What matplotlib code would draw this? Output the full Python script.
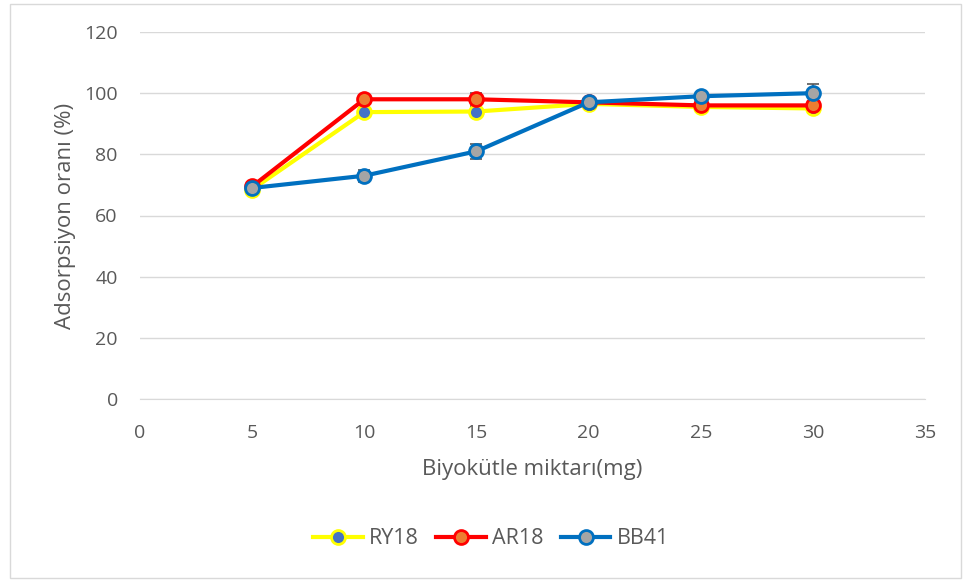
import matplotlib.pyplot as plt
from matplotlib.patches import Rectangle

plt.rcParams['font.family'] = ['Open Sans', 'DejaVu Sans']

x_mg = [5, 10, 15, 20, 25, 30]
ry18 = [68.5, 93.8, 94.0, 96.5, 95.5, 95.0]
ar18 = [69.5, 98.0, 98.0, 97.0, 96.0, 96.0]
bb41 = [69.0, 73.0, 81.0, 97.0, 99.0, 100.0]
ry18_err = [1.0, 1.5, 1.5, 1.5, 1.0, 1.5]
ar18_err = [1.0, 1.5, 2.0, 1.5, 1.5, 2.5]
bb41_err = [1.0, 2.0, 2.5, 1.5, 1.0, 3.0]

fig = plt.figure(figsize=(9.64, 5.81), dpi=100)
ax = fig.add_axes([140/964, 1 - 399/581, 785/964, 367/581])

series = [
    ("RY18", ry18, ry18_err, "#FFFF00", "#4472C4"),
    ("AR18", ar18, ar18_err, "#FF0000", "#ED7D31"),
    ("BB41", bb41, bb41_err, "#0070C0", "#A5A5A5"),
]
for name, vals, err, lc, fc in series:
    ax.errorbar(x_mg, vals, yerr=err, fmt='none', ecolor='#595959',
                elinewidth=1.2, capsize=4, capthick=1.2, zorder=2)
    ax.plot(x_mg, vals, '-o', color=lc, lw=3, markersize=10,
            markerfacecolor=fc, markeredgecolor=lc, markeredgewidth=2,
            label=name, zorder=3)

ax.set_xlim(0, 35)
ax.set_ylim(0, 120)
ax.set_xticks(range(0, 36, 5))
ax.set_yticks(range(0, 121, 20))
ax.grid(axis='y', color='#D9D9D9', lw=1)
ax.set_axisbelow(True)
for s in ['top', 'right', 'left']:
    ax.spines[s].set_visible(False)
ax.spines['bottom'].set_color('#D9D9D9')
ax.tick_params(axis='both', length=0, labelsize=14, colors='#595959')
ax.tick_params(axis='y', pad=16)
ax.tick_params(axis='x', pad=18)
ax.set_xlabel('Biyokütle miktarı(mg)', fontsize=16, color='#595959', labelpad=12)
ax.set_ylabel('Adsorpsiyon oranı (%)', fontsize=16, color='#595959', labelpad=6)

leg = fig.legend(loc='center', bbox_to_anchor=(491/964, 1 - 539/581), ncol=3,
                 frameon=False, fontsize=15.5, handlelength=2.3, columnspacing=0.8,
                 handletextpad=0.3)
for t in leg.get_texts():
    t.set_color('#595959')

fig.patches.append(Rectangle((10/964, 3/581), 951/964, 574/581, transform=fig.transFigure,
                             fill=False, edgecolor='#D9D9D9', lw=1))

fig.savefig('out.png', dpi=100)
